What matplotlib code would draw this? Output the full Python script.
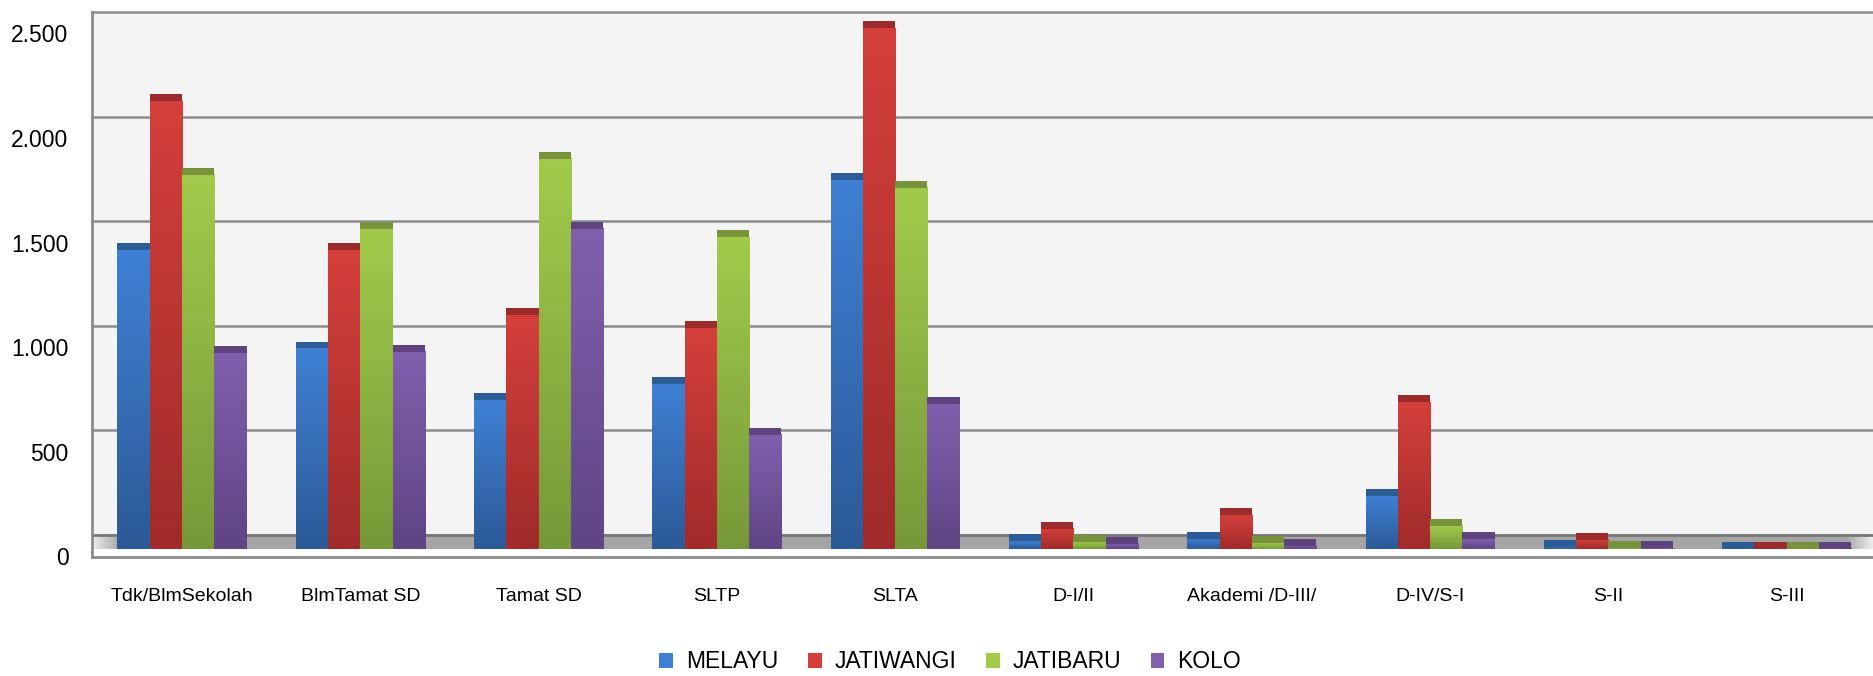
import numpy as np
import matplotlib.pyplot as plt
from matplotlib.colors import LinearSegmentedColormap
from matplotlib.patches import Patch

# categories (education level) and one list per kelurahan
categories = ['Tdk/BlmSekolah', 'BlmTamat SD', 'Tamat SD', 'SLTP', 'SLTA',
              'D-I/II', 'Akademi /D-III/', 'D-IV/S-I', 'S-II', 'S-III']
series = ['MELAYU', 'JATIWANGI', 'JATIBARU', 'KOLO']
melayu = [1429, 959, 712, 788, 1763, 37, 48, 253, 10, 2]
jatiwangi = [2141, 1429, 1121, 1055, 2490, 97, 161, 701, 45, 2]
jatibaru = [1789, 1532, 1866, 1490, 1728, 34, 31, 110, 6, 1]
kolo = [938, 943, 1531, 545, 693, 26, 15, 47, 4, 2]
yticks = [0, 500, 1000, 1500, 2000, 2500]

top_colors = ['#3f80d4', '#d43f3b', '#a2cb4b', '#8060ad']
bottom_colors = ['#2c5a97', '#a02b2a', '#779839', '#5f4584']
cap_colors = ['#2c5c95', '#9c2b2b', '#77933b', '#5f437e']

# fake 3d look: floor depth, top face height, shift of the front axis labels
FLOOR = 67
CAP = 33
SHIFT = 102
YLO, YHI = -105, 2500
XLO, XHI = -0.505, 9.49

fig = plt.figure(figsize=(18.74, 6.76), dpi=100)
ax = fig.add_axes([92 / 1874, (676 - 557) / 676, 1 - 92 / 1874, (557 - 12) / 676])
ax.set_facecolor('#f4f4f4')

# white strip in front of the floor, then grey floor with faded ends
ax.axhspan(YLO, -FLOOR, color='white', zorder=0)
xs = np.linspace(XLO, XHI, 900)
w = np.clip((xs - XLO) / 0.15, 0, 1) * np.clip((XHI - xs) / 0.15, 0, 1)
light = np.array([0.93, 0.93, 0.93])
grey = np.array([0.65, 0.65, 0.65])
floor = (light[None, :] * (1 - w[:, None]) + grey[None, :] * w[:, None])[None, :, :]
ax.imshow(floor, extent=[XLO, XHI, -FLOOR, 0], aspect='auto', zorder=1)

# back wall gridlines
for v in yticks[1:]:
    ax.axhline(v, color='#8c8c8c', lw=1.8, zorder=1, clip_on=False)
ax.axhline(0, color='#777777', lw=2, zorder=1.5)

x = np.arange(len(categories))
width = 0.181
data = [melayu, jatiwangi, jatibaru, kolo]
for i, vals in enumerate(data):
    pos = x + (i - 1.5) * width
    bars = ax.bar(pos, vals, width, bottom=-FLOOR, color=bottom_colors[i], zorder=2)
    cmap = LinearSegmentedColormap.from_list('g%d' % i, [bottom_colors[i], top_colors[i]])
    grad = np.linspace(0, 1, 128).reshape(-1, 1)
    for r in bars:
        if r.get_height() <= 0:
            continue
        ax.imshow(grad, cmap=cmap, origin='lower', aspect='auto',
                  extent=[r.get_x(), r.get_x() + r.get_width(), r.get_y(), r.get_y() + r.get_height()],
                  zorder=3)
    ax.bar(pos, CAP, width, bottom=np.array(vals) - FLOOR, color=cap_colors[i], zorder=4)

ax.set_xlim(XLO, XHI)
ax.set_ylim(YLO, YHI)

ax.set_xticks(x)
ax.set_xticklabels(categories, fontsize=14, family='Liberation Sans')
ax.tick_params(axis='x', length=0, pad=22)
ax.set_yticks([v - SHIFT for v in yticks])
ax.set_yticklabels([f'{v:,}'.replace(',', '.') for v in yticks], fontsize=16.5,
                   family='Liberation Sans')
ax.tick_params(axis='y', length=0, pad=17)

for s in ['top', 'right']:
    ax.spines[s].set_visible(False)
for s in ['left', 'bottom']:
    ax.spines[s].set_color('#8c8c8c')
    ax.spines[s].set_linewidth(2)

handles = [Patch(facecolor=top_colors[i], edgecolor='none') for i in range(4)]
fig.legend(handles, series, loc='center', bbox_to_anchor=(0.507, (676 - 662) / 676), ncol=4,
           frameon=False, handlelength=0.6, handleheight=0.6, handletextpad=0.55,
           columnspacing=1.3, prop={'family': 'Liberation Sans', 'size': 16.5})

fig.savefig('out.png', dpi=100)
